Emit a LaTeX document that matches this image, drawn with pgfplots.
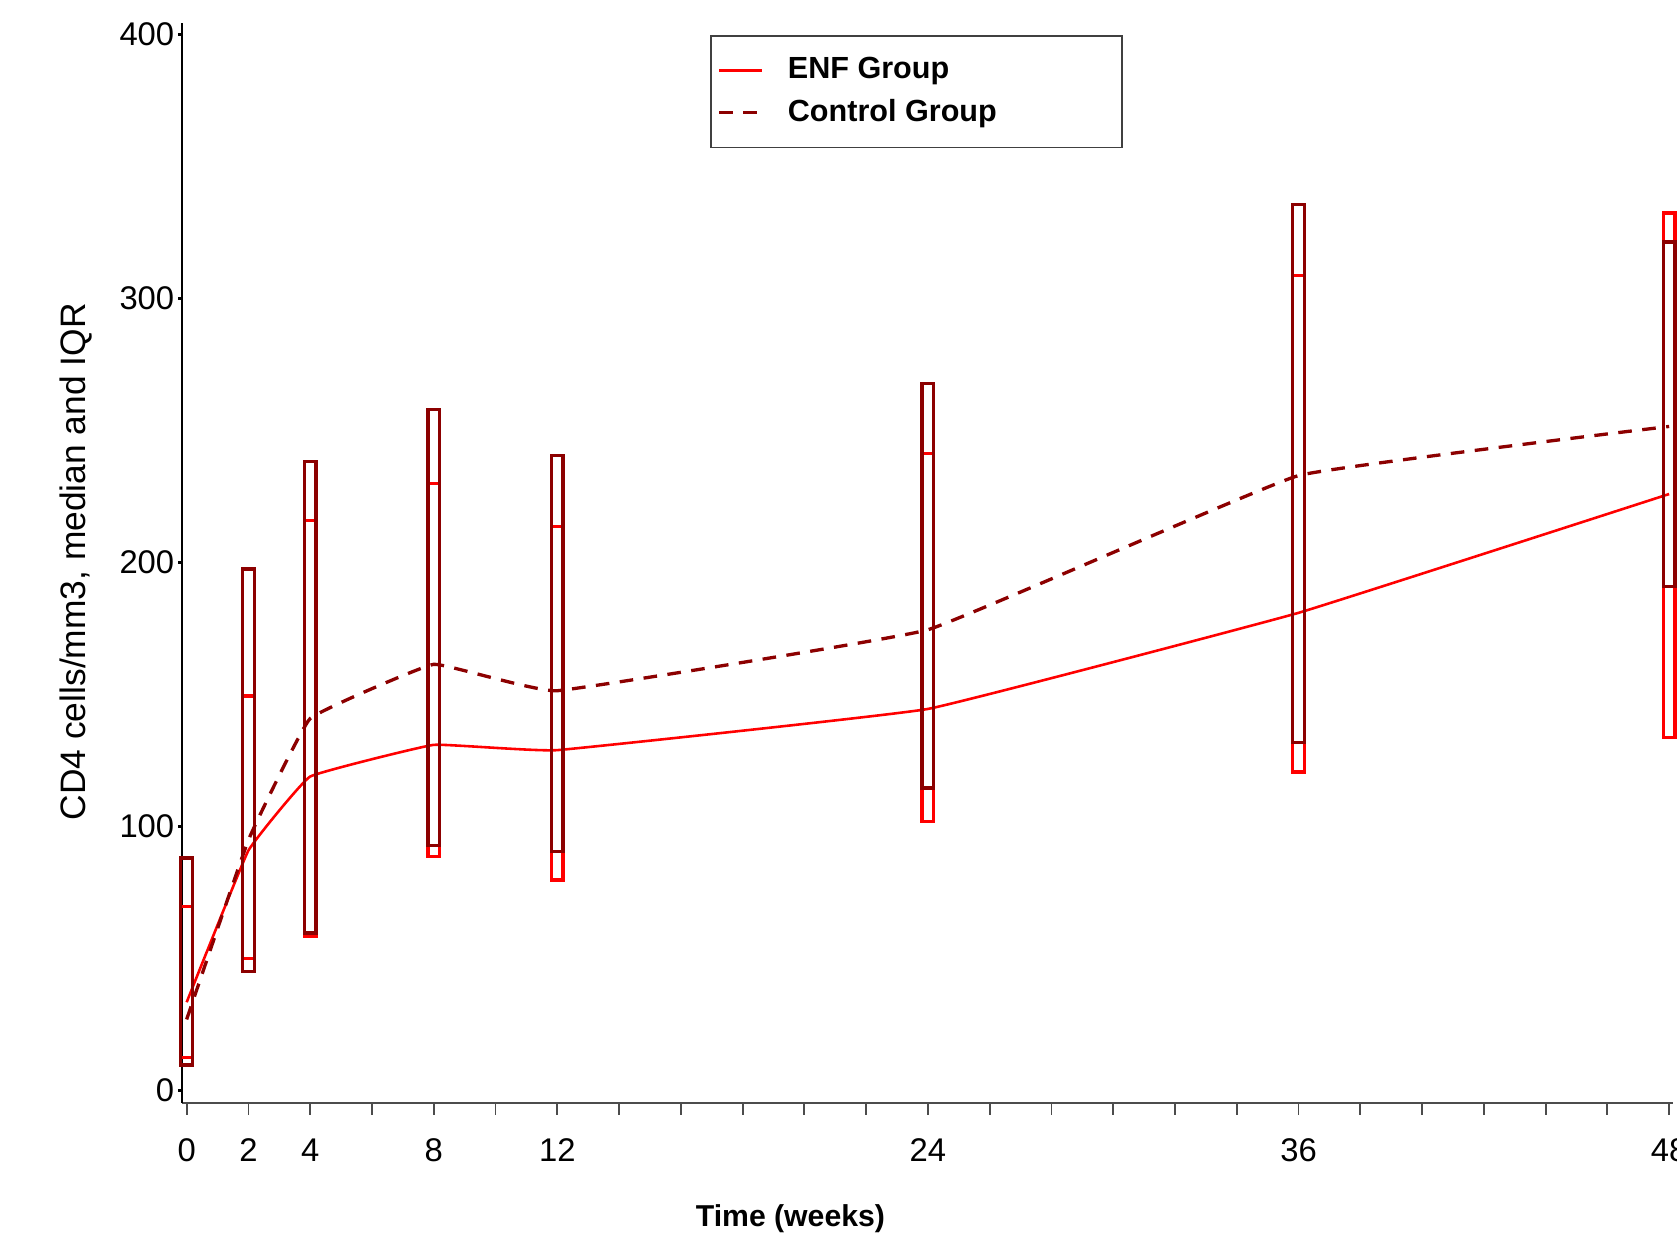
\documentclass[border=0pt]{standalone}
\usepackage{fontspec}
\setmainfont{Liberation Sans}
\usepackage{pgfplots}
\usepackage{pgfplotstable}
\pgfplotsset{compat=1.18}
\usepgfplotslibrary{statistics}

\definecolor{enfred}{RGB}{255,0,0}
\definecolor{ctrlred}{RGB}{140,0,0}

% medians (the boxes below hold the quartiles)
\pgfplotstableread{
week med
0  33.5
2  91
4  119
8  131
12 129
24 144.6
36 181
48 226
}\enfdata
\pgfplotstableread{
week med
0  27
2  95
4  141
8  161.5
12 151.5
24 174.6
36 233
48 251.6
}\ctrldata

\begin{document}
\begin{tikzpicture}
  \begin{axis}[
      at={(0,0)}, anchor=south west,
      scale only axis,
      width=14.22cm, height=10.30cm,
      xmin=-0.142, xmax=48.12,
      ymin=-4.55, ymax=404.4,
      clip=false,
      axis lines=left,
      x axis line style={-, gray!60!black, line width=0.6pt},
      y axis line style={-, black, line width=0.5pt},
      tick align=outside,
      xtick={0,2,4,8,12,24,36,48},
      minor xtick={0,2,...,48},
      ytick={0,100,200,300,400},
      major tick length=0.04cm,
      minor tick length=0.117cm,
      every major x tick/.append style={draw=none},
      every minor x tick/.append style={gray!60!black, line width=0.5pt},
      every major y tick/.append style={black, line width=0.8pt},
      /pgf/number format/assume math mode=true,
      ticklabel style={font=\fontsize{8.9}{10}\selectfont},
      xticklabel style={anchor=center, yshift=-0.41cm},
      yticklabel style={inner xsep=0pt, xshift=-0.03cm},
      xlabel={Time (weeks)},
      ylabel={CD4 cells/mm3, median and IQR},
      xlabel style={at={(axis description cs:0.408,-0.107)}, anchor=center,
        font=\bfseries\fontsize{8.2}{10}\selectfont},
      ylabel style={at={(axis description cs:-0.0715,0.501)}, anchor=center,
        font=\fontsize{9.6}{11}\selectfont},
      legend image code/.code={\draw[#1, line width=0.85pt] (0cm,0cm) -- (0.406cm,0cm);},
      legend style={at={(axis cs:16.94,399.7)}, anchor=north west,
        draw=black!75, line width=0.5pt,
        font=\bfseries\fontsize{8.3}{9.5}\selectfont,
        inner xsep=0.064cm, inner ysep=0.2cm,
        nodes={inner sep=0pt}, row sep=0.14cm,
        /tikz/every odd column/.append style={column sep=0.236cm}},
      legend cell align=left,
      boxplot/draw direction=y,
      boxplot/box extend=0.38,
      boxplot/every median/.style={draw=none},
      boxplot/every whisker/.style={draw=none},
      enfbox/.style={draw=enfred, line width=0.9pt, fill=none, forget plot},
      ctrlbox/.style={draw=ctrlred, line width=0.9pt, fill=none, forget plot},
    ]

    \addplot[enfred, line width=0.7pt, smooth, tension=0.15] table[x=week, y=med] {\enfdata};
    \addlegendentry{\makebox[3.12cm][l]{ENF Group}}
    \addplot[ctrlred, line width=0.9pt, dash pattern=on 0.13cm off 0.10cm, smooth, tension=0.15]
      table[x=week, y=med] {\ctrldata};
    \addlegendentry{\makebox[3.12cm][l]{Control Group}}

    % ENF group, IQR boxes
    \addplot[enfbox, boxplot prepared={draw position=0,  lower whisker=12.5,  lower quartile=12.5,  median=33.5,  upper quartile=69.7,  upper whisker=69.7}] coordinates {};
    \addplot[enfbox, boxplot prepared={draw position=2,  lower whisker=50.2,  lower quartile=50.2,  median=91,    upper quartile=149.5, upper whisker=149.5}] coordinates {};
    \addplot[enfbox, boxplot prepared={draw position=4,  lower whisker=58.5,  lower quartile=58.5,  median=119,   upper quartile=216,   upper whisker=216}] coordinates {};
    \addplot[enfbox, boxplot prepared={draw position=8,  lower whisker=88.6,  lower quartile=88.6,  median=131,   upper quartile=230,   upper whisker=230}] coordinates {};
    \addplot[enfbox, boxplot prepared={draw position=12, lower whisker=79.8,  lower quartile=79.8,  median=129,   upper quartile=213.6, upper whisker=213.6}] coordinates {};
    \addplot[enfbox, boxplot prepared={draw position=24, lower whisker=102,   lower quartile=102,   median=144.6, upper quartile=241.4, upper whisker=241.4}] coordinates {};
    \addplot[enfbox, boxplot prepared={draw position=36, lower whisker=120.7, lower quartile=120.7, median=181,   upper quartile=308.7, upper whisker=308.7}] coordinates {};
    \addplot[enfbox, boxplot prepared={draw position=48, lower whisker=133.9, lower quartile=133.9, median=226,   upper quartile=332.4, upper whisker=332.4}] coordinates {};

    % control group, IQR boxes
    \addplot[ctrlbox, boxplot prepared={draw position=0,  lower whisker=9.7,   lower quartile=9.7,   median=27,    upper quartile=88.1,  upper whisker=88.1}] coordinates {};
    \addplot[ctrlbox, boxplot prepared={draw position=2,  lower whisker=45.1,  lower quartile=45.1,  median=95,    upper quartile=197.6, upper whisker=197.6}] coordinates {};
    \addplot[ctrlbox, boxplot prepared={draw position=4,  lower whisker=59.7,  lower quartile=59.7,  median=141,   upper quartile=238.3, upper whisker=238.3}] coordinates {};
    \addplot[ctrlbox, boxplot prepared={draw position=8,  lower whisker=93,    lower quartile=93,    median=161.5, upper quartile=258,   upper whisker=258}] coordinates {};
    \addplot[ctrlbox, boxplot prepared={draw position=12, lower whisker=90.7,  lower quartile=90.7,  median=151.5, upper quartile=240.6, upper whisker=240.6}] coordinates {};
    \addplot[ctrlbox, boxplot prepared={draw position=24, lower whisker=114.6, lower quartile=114.6, median=174.6, upper quartile=267.8, upper whisker=267.8}] coordinates {};
    \addplot[ctrlbox, boxplot prepared={draw position=36, lower whisker=132,   lower quartile=132,   median=233,   upper quartile=335.6, upper whisker=335.6}] coordinates {};
    \addplot[ctrlbox, boxplot prepared={draw position=48, lower whisker=191,   lower quartile=191,   median=251.6, upper quartile=321.5, upper whisker=321.5}] coordinates {};
  \end{axis}
  \pgfresetboundingbox
  \path[use as bounding box] (-1.739,-1.243) rectangle (14.26,10.52);
\end{tikzpicture}
\end{document}
